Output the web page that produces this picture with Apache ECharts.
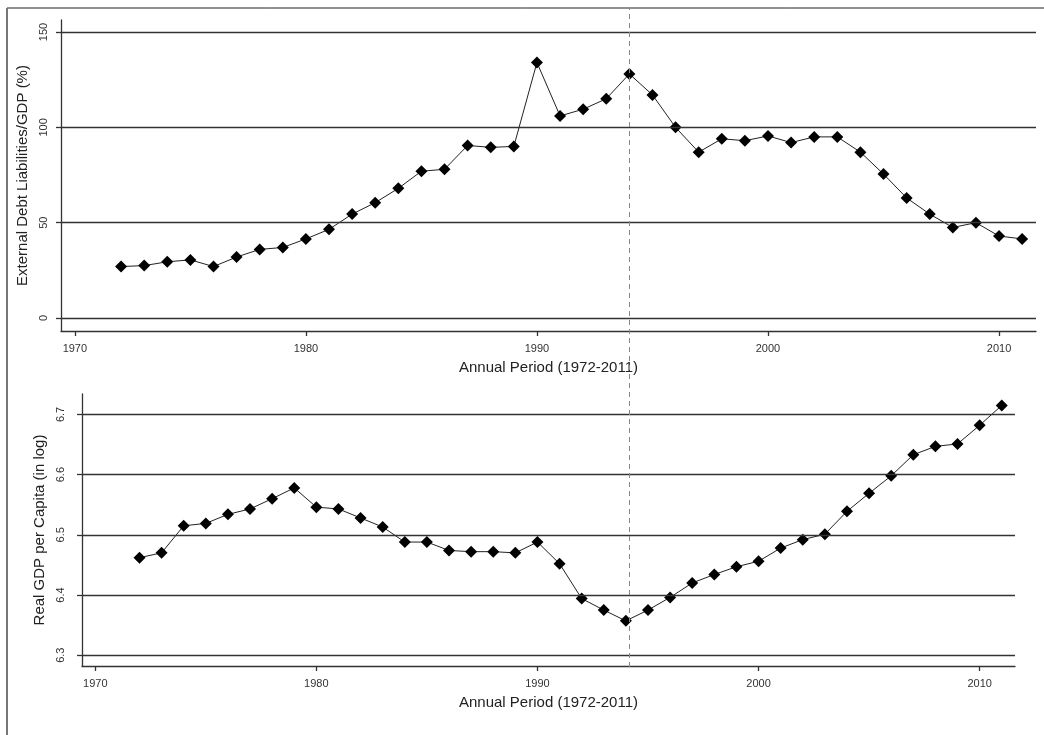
<!DOCTYPE html>
<html>
<head>
<meta charset="utf-8">
<script src="https://cdn.jsdelivr.net/npm/echarts@6/dist/echarts.min.js"></script>
<style>html,body{margin:0;padding:0;background:#fff}#c{width:1044px;height:735px}</style>
</head>
<body>
<div id="c"></div>
<script>
const years = [1972,1973,1974,1975,1976,1977,1978,1979,1980,1981,1982,1983,1984,1985,1986,1987,1988,1989,1990,1991,1992,1993,1994,1995,1996,1997,1998,1999,2000,2001,2002,2003,2004,2005,2006,2007,2008,2009,2010,2011];
const debtRatio = [27,27.5,29.5,30.5,27,32,36,37,41.5,46.5,54.5,60.5,68,77,78,90.5,89.5,90,134,106,109.5,115,128,117,100,87,94,93,95.5,92,95,95,87,75.5,63,54.5,47.5,50,43,41.5];
const gdpLog = [6.462,6.470,6.515,6.519,6.534,6.543,6.560,6.578,6.546,6.543,6.528,6.513,6.488,6.488,6.474,6.472,6.472,6.470,6.488,6.452,6.394,6.375,6.357,6.375,6.396,6.420,6.434,6.447,6.456,6.478,6.492,6.501,6.539,6.569,6.598,6.633,6.647,6.651,6.682,6.715];
const xTicks = [1970,1980,1990,2000,2010];
const debtTicks = [0,50,100,150];
const gdpTicks = [6.3,6.4,6.5,6.6,6.7];
const breakYear = 1994;
const xTitle = 'Annual Period (1972-2011)';
const debtTitle = 'External Debt Liabilities/GDP (%)';
const gdpTitle = 'Real GDP per Capita (in log)';

const FONT = '"Liberation Sans", Arial, sans-serif';
const AX = '#333';

function xAxisCfg(gridIndex, show) {
  return {
    type: 'value', gridIndex, min: 1969.4, max: 2011.6, show,
    name: xTitle, nameLocation: 'middle', nameGap: 29,
    nameTextStyle: {fontFamily: FONT, fontSize: 15, color: '#222'},
    axisLine: {show: true, onZero: false, lineStyle: {color: AX, width: 1.3}},
    axisTick: {show: true, length: 5, customValues: xTicks, lineStyle: {color: AX, width: 1.3}},
    axisLabel: {customValues: xTicks, margin: 12, fontFamily: FONT, fontSize: 11, color: '#333', formatter: v => String(Math.round(v))},
    splitLine: {show: false}
  };
}
function yAxisCfg(gridIndex, min, max, ticks, title, gap, margin, fmt) {
  return {
    type: 'value', gridIndex, min, max,
    name: title, nameLocation: 'middle', nameGap: gap, nameRotate: 90,
    nameTextStyle: {fontFamily: FONT, fontSize: 15, color: '#222'},
    axisLine: {show: true, onZero: false, lineStyle: {color: AX, width: 1.3}},
    axisTick: {show: true, length: 5, customValues: ticks, lineStyle: {color: AX, width: 1.3}},
    axisLabel: {customValues: ticks, rotate: 90, margin, fontFamily: FONT, fontSize: 11, color: '#333', formatter: fmt},
    splitLine: {show: false}
  };
}
function gridSeries(xi, yi, ticks) {
  return {
    type: 'line', xAxisIndex: xi, yAxisIndex: yi, data: [], z: 1, silent: true,
    markLine: {silent: true, symbol: ['none','none'], label: {show: false},
      lineStyle: {color: '#333', width: 1.3, type: 'solid'},
      data: ticks.map(v => ({yAxis: v}))}
  };
}
function dataSeries(xi, yi, vals) {
  return {
    type: 'line', xAxisIndex: xi, yAxisIndex: yi, z: 3,
    data: years.map((y, i) => [y, vals[i]]),
    symbol: 'diamond', symbolSize: 12, showSymbol: true,
    itemStyle: {color: '#000'},
    lineStyle: {color: '#222', width: 1},
    animation: false
  };
}

const chart = echarts.init(document.getElementById('c'), null, {renderer: 'canvas'});
chart.setOption({
  backgroundColor: '#fff',
  animation: false,
  graphic: [
    {type: 'line', shape: {x1: 7, y1: 8, x2: 1044, y2: 8}, style: {stroke: '#222', lineWidth: 1}},
    {type: 'line', shape: {x1: 7, y1: 8, x2: 7, y2: 735}, style: {stroke: '#777', lineWidth: 2}}
  ],
  grid: [
    {left: 61, top: 20, right: 8, bottom: 404},
    {left: 82, top: 394, right: 29, bottom: 69},
    {left: 61, top: 8, right: 8, bottom: 68}
  ],
  xAxis: [xAxisCfg(0, true), xAxisCfg(1, true), {type: 'value', gridIndex: 2, min: 1969.4, max: 2011.6, show: false}],
  yAxis: [
    yAxisCfg(0, -6.8, 156.3, debtTicks, debtTitle, 27, 12, v => String(Math.round(v))),
    yAxisCfg(1, 6.282, 6.734, gdpTicks, gdpTitle, 34, 16, v => Number(v).toFixed(1)),
    {type: 'value', gridIndex: 2, min: 0, max: 1, show: false}
  ],
  series: [
    gridSeries(0, 0, debtTicks),
    gridSeries(1, 1, gdpTicks),
    dataSeries(0, 0, debtRatio),
    dataSeries(1, 1, gdpLog),
    {type: 'line', xAxisIndex: 2, yAxisIndex: 2, data: [], z: 2, silent: true,
     markLine: {silent: true, symbol: ['none','none'], label: {show: false},
       lineStyle: {color: '#888', width: 1, type: [5, 4]},
       data: [{xAxis: breakYear}]}}
  ]
});
</script>
</body>
</html>
